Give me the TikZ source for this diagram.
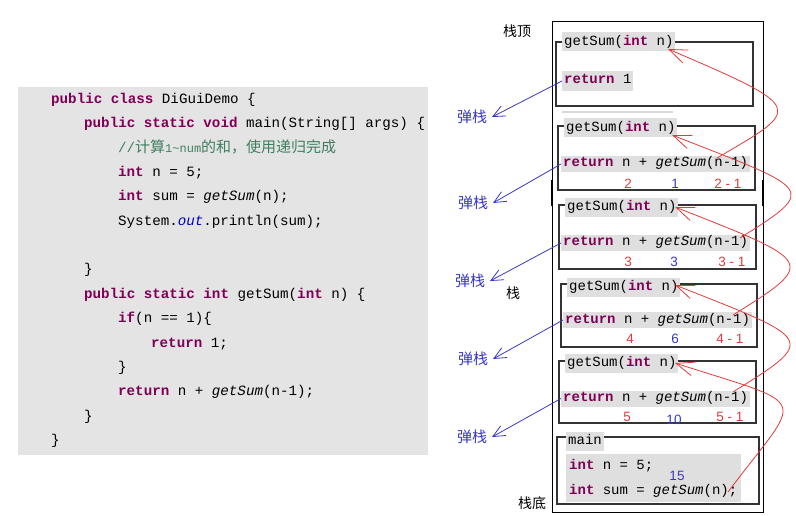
\documentclass[tikz,border=0pt]{standalone}
\usepackage{fontspec}
\setmonofont{Liberation Mono}
\newfontfamily\cjk{Noto Sans CJK SC}
\newfontfamily\numfont{Liberation Sans}
\usetikzlibrary{arrows.meta}

\definecolor{kwpurple}{HTML}{7F0055}
\definecolor{cmtgreen}{HTML}{3F7F5F}
\definecolor{fieldblue}{HTML}{0000C0}
\definecolor{panelgray}{HTML}{E4E4E4}
\definecolor{boxgray}{HTML}{DFDFDF}
\definecolor{penblue}{HTML}{3838C4}
\definecolor{penred}{HTML}{E03A3A}

\newcommand{\kw}[1]{\textcolor{kwpurple}{\textbf{#1}}}
\newcommand{\calls}[1]{\textit{#1}}

\tikzset{
    codeline/.style={anchor=base west, inner sep=0pt, font=\ttfamily\fontsize{14.2}{16}\selectfont},
    stackcode/.style={anchor=west, fill=boxgray, inner xsep=2pt, inner ysep=0pt, text height=11pt, text depth=5pt, font=\ttfamily\fontsize{14}{16}\selectfont},
    sigline/.style={stackcode, text height=13pt, text depth=6pt},
    framebox/.style={draw=black!80, line width=1.1pt},
    popnote/.style={text=penblue, font=\cjk\fontsize{15}{16}\selectfont, inner sep=2pt, outer sep=3pt},
    stacknote/.style={font=\cjk\fontsize{14}{16}\selectfont},
    rednum/.style={text=penred, font=\numfont\fontsize{13.5}{14}\selectfont},
    bluenum/.style={text=penblue, font=\numfont\fontsize{13.5}{14}\selectfont},
    poparrow/.style={draw=penblue, line width=0.8pt, -{Straight Barb[length=12pt,width=11pt]}},
    callarrow/.style={draw=penred, line width=0.8pt, -{Straight Barb[length=18pt,width=14pt]}}
}

\begin{document}
\begin{tikzpicture}[x=1pt, y=-1pt]
    \useasboundingbox (0,0) rectangle (796,516);
    %code panel
        \fill[panelgray] (18,87) rectangle (428,455);
        \node[codeline] (l1) at (51,103.5) {\kw{public class} DiGuiDemo \{};
        \node[codeline] (l2) at (84,127.8) {\kw{public static void} main(String[] args) \{};
        \node[codeline] (l3) at (118,152.2) {\textcolor{cmtgreen}{//{\cjk\fontsize{15}{16}\selectfont 计算}{\fontsize{12}{14}\selectfont 1\textasciitilde num}{\cjk\fontsize{15}{16}\selectfont 的和，使用递归完成}}};
        \node[codeline] (l4) at (118,176.5) {\kw{int} n = 5;};
        \node[codeline] (l5) at (118,200.9) {\kw{int} sum = \calls{getSum}(n);};
        \node[codeline] (l6) at (118,225.2) {System.\textcolor{fieldblue}{\textit{out}}.println(sum);};
        \node[codeline] (l8) at (84,273.9) {\}};
        \node[codeline] (l9) at (84,298.3) {\kw{public static int} getSum(\kw{int} n) \{};
        \node[codeline] (l10) at (118,322.6) {\kw{if}(n == 1)\{};
        \node[codeline] (l11) at (151,347) {\kw{return} 1;};
        \node[codeline] (l12) at (118,371.3) {\}};
        \node[codeline] (l13) at (118,395.7) {\kw{return} n + \calls{getSum}(n-1);};
        \node[codeline] (l14) at (84,420) {\}};
        \node[codeline] (l15) at (51,444.4) {\}};

    % stack
        \draw[line width=0.9pt] (552,21) rectangle (763,512);
        \draw[line width=2.4pt] (552,180) -- (552,206);
        \draw[line width=2.4pt] (763,180) -- (763,206);
        \draw[black!15, line width=1.2pt] (562,112) -- (673,112);
        \node[stacknote] (top) at (517,31) {栈顶};
        \node[stacknote] (middle) at (513,293) {栈};
        \node[stacknote] (bottom) at (532,503) {栈底};

    % frames
        \draw[framebox] (556,42) rectangle (753,106);
            \node[sigline] (sig1) at (562,42) {getSum(\kw{int} n)};
            \node[stackcode, text height=13pt, text depth=7pt] (ret1) at (562,81) {\kw{return} 1};
        \draw[framebox] (558,126) rectangle (755,190);
            \node[sigline] (sig2) at (564,128) {getSum(\kw{int} n)};
            \node[stackcode] (ret2) at (561,164) {\kw{return} n + \calls{getSum}(n-1)};
            \node[rednum] (arg2) at (628,184) {2};
            \node[bluenum] (sum2) at (675,184) {1};
            \node[rednum] (next2) at (728,184) {2 - 1};
        \draw[framebox] (559,205) rectangle (756,269);
            \node[sigline] (sig3) at (565,207.5) {getSum(\kw{int} n)};
            \node[stackcode] (ret3) at (561,243) {\kw{return} n + \calls{getSum}(n-1)};
            \node[rednum] (arg3) at (628,262) {3};
            \node[bluenum] (sum3) at (674,262) {3};
            \node[rednum] (next3) at (732,262) {3 - 1};
        \draw[framebox] (561,284) rectangle (757,347);
            \node[sigline] (sig4) at (567,287) {getSum(\kw{int} n)};
            \node[stackcode] (ret4) at (563,320) {\kw{return} n + \calls{getSum}(n-1)};
            \node[rednum] (arg4) at (630,339) {4};
            \node[bluenum] (sum4) at (675,339) {6};
            \node[rednum] (next4) at (730,339) {4 - 1};
        \draw[framebox] (559,361) rectangle (756,423);
            \node[sigline] (sig5) at (565,363) {getSum(\kw{int} n)};
            \node[stackcode] (ret5) at (561,398.5) {\kw{return} n + \calls{getSum}(n-1)};
            \node[rednum] (arg5) at (627,417) {5};
            \node[bluenum] (sum5) at (674,420) {10};
            \node[rednum] (next5) at (730,417) {5 - 1};
        \draw[framebox] (557,437) rectangle (759,504);
            \node[sigline] (sigm) at (566,441) {main};
            \node[fill=boxgray, anchor=north west, minimum width=175pt, minimum height=48pt, inner sep=0pt] (bodym) at (566,454) {};
            \node[codeline, font=\ttfamily\fontsize{14}{16}\selectfont] (linem1) at (569,469.5) {\kw{int} n = 5;};
            \node[codeline, font=\ttfamily\fontsize{14}{16}\selectfont] (linem2) at (569,494) {\kw{int} sum = \calls{getSum}(n);};
            \node[bluenum] (summ) at (677,476) {15};

    %pop arrows
        \node[popnote] (pop1) at (472,117) {弹栈};
        \node[popnote] (pop2) at (473,203) {弹栈};
        \node[popnote] (pop3) at (470,281) {弹栈};
        \node[popnote] (pop4) at (473,359) {弹栈};
        \node[popnote] (pop5) at (472,437) {弹栈};
        \draw[poparrow] (ret1.west) -- (pop1.east);
        \draw[poparrow] (ret2.west) -- (pop2.east);
        \draw[poparrow] (ret3.west) -- (pop3.east);
        \draw[poparrow] (ret4.west) -- (pop4.east);
        \draw[poparrow] (ret5.west) -- (pop5.east);

    %call arrows
        \coordinate (call2) at (717,158);
        \coordinate (call3) at (740,238);
        \coordinate (call4) at (733,315);
        \coordinate (call5) at (733,392);
        \coordinate (callm) at (728,492);
        \coordinate (back1) at (668,49);
        \coordinate (back2) at (672,135);
        \coordinate (back3) at (675,207);
        \coordinate (back4) at (675,285);
        \coordinate (back5) at (675,363);
        \draw[callarrow] (call2) .. controls +(85,-50) and +(140,60) .. (back1);
        \draw[callarrow] (call3) .. controls +(80,-50) and +(140,55) .. (back2);
        \draw[callarrow] (call4) .. controls +(85,-53) and +(140,55) .. (back3);
        \draw[callarrow] (call5) .. controls +(85,-53) and +(140,55) .. (back4);
        \draw[callarrow] (callm) .. controls +(75,-100) and +(140,45) .. (back5);
\end{tikzpicture}
\end{document}
